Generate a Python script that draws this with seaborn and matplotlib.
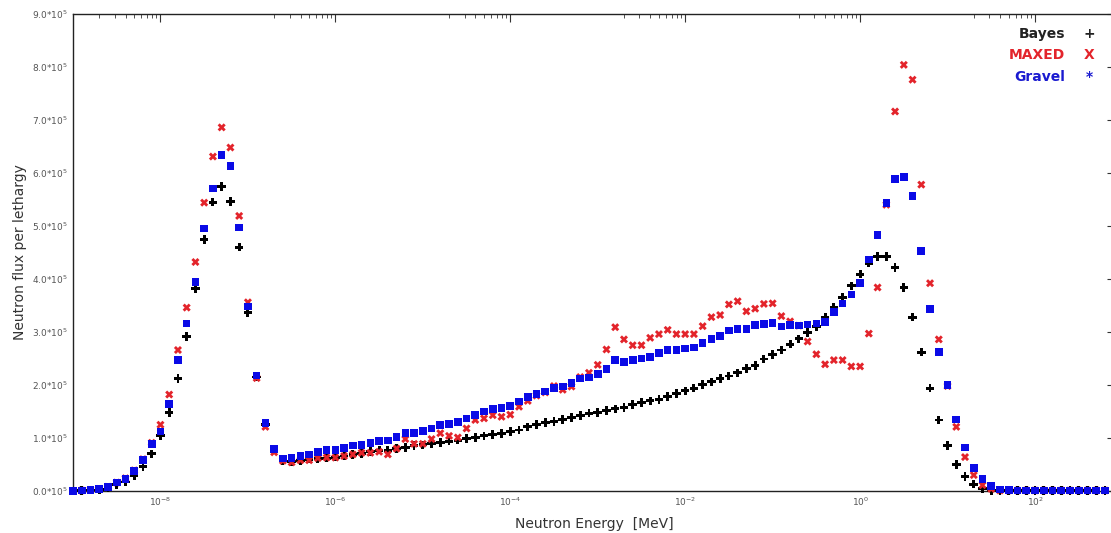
import numpy as np
import pandas as pd
import matplotlib
matplotlib.use("Agg")
import matplotlib.pyplot as plt
import seaborn as sns
from matplotlib.ticker import FixedLocator, FuncFormatter

# energy bins, 10 per decade starting at 1e-9 MeV
energy = np.logspace(-9, 2.8, 119)

# neutron flux per lethargy, in units of 1e5
bayes = [0.0, 0.01, 0.02, 0.03, 0.06, 0.12, 0.17, 0.29, 0.46, 0.70,
         1.04, 1.48, 2.12, 2.91, 3.82, 4.75, 5.45, 5.75, 5.46, 4.60,
         3.37, 2.15, 1.25, 0.78, 0.58, 0.56, 0.58, 0.60, 0.61, 0.62,
         0.64, 0.66, 0.69, 0.71, 0.74, 0.77, 0.77, 0.80, 0.82, 0.86,
         0.87, 0.90, 0.91, 0.94, 0.96, 0.99, 1.01, 1.04, 1.07, 1.09,
         1.12, 1.15, 1.21, 1.25, 1.29, 1.31, 1.35, 1.39, 1.42, 1.47,
         1.48, 1.52, 1.55, 1.58, 1.63, 1.67, 1.70, 1.73, 1.78, 1.84,
         1.89, 1.94, 2.01, 2.06, 2.12, 2.17, 2.23, 2.31, 2.37, 2.49,
         2.58, 2.66, 2.77, 2.87, 2.99, 3.10, 3.28, 3.47, 3.65, 3.87,
         4.09, 4.30, 4.42, 4.42, 4.22, 3.84, 3.28, 2.62, 1.94, 1.34,
         0.86, 0.50, 0.27, 0.13, 0.04, 0.01, 0.01, 0.01, 0.01, 0.01,
         0.01, 0.01, 0.01, 0.01, 0.01, 0.01, 0.01, 0.01, 0.01]

maxed = [0.0, 0.01, 0.02, 0.04, 0.08, 0.16, 0.24, 0.39, 0.60, 0.91,
         1.25, 1.82, 2.66, 3.46, 4.32, 5.44, 6.31, 6.86, 6.48, 5.19,
         3.56, 2.13, 1.21, 0.73, 0.57, 0.54, 0.58, 0.58, 0.62, 0.63,
         0.63, 0.66, 0.69, 0.72, 0.72, 0.74, 0.69, 0.80, 0.98, 0.89,
         0.89, 0.98, 1.09, 1.04, 1.01, 1.18, 1.34, 1.37, 1.43, 1.40,
         1.44, 1.59, 1.70, 1.80, 1.86, 1.98, 1.91, 1.97, 2.15, 2.23,
         2.38, 2.67, 3.09, 2.86, 2.75, 2.75, 2.89, 2.96, 3.04, 2.96,
         2.96, 2.96, 3.11, 3.28, 3.32, 3.52, 3.58, 3.39, 3.44, 3.53,
         3.54, 3.30, 3.20, 3.12, 2.82, 2.58, 2.39, 2.47, 2.47, 2.35,
         2.35, 2.97, 3.84, 5.40, 7.16, 8.04, 7.76, 5.78, 3.92, 2.86,
         1.98, 1.21, 0.64, 0.30, 0.11, 0.04, 0.01, 0.01, 0.01, 0.01,
         0.01, 0.01, 0.01, 0.01, 0.01, 0.01, 0.01, 0.01, 0.01]

gravel = [0.0, 0.01, 0.02, 0.04, 0.08, 0.16, 0.23, 0.38, 0.58, 0.89,
          1.12, 1.64, 2.47, 3.16, 3.94, 4.95, 5.71, 6.34, 6.13, 4.97,
          3.48, 2.18, 1.28, 0.79, 0.61, 0.62, 0.66, 0.69, 0.74, 0.77,
          0.77, 0.81, 0.86, 0.87, 0.90, 0.94, 0.95, 1.02, 1.09, 1.09,
          1.13, 1.18, 1.25, 1.26, 1.30, 1.37, 1.43, 1.50, 1.55, 1.57,
          1.60, 1.69, 1.77, 1.83, 1.88, 1.94, 1.97, 2.04, 2.12, 2.14,
          2.21, 2.30, 2.47, 2.43, 2.47, 2.50, 2.53, 2.60, 2.66, 2.66,
          2.69, 2.71, 2.79, 2.87, 2.92, 3.03, 3.06, 3.06, 3.13, 3.15,
          3.17, 3.10, 3.13, 3.12, 3.14, 3.16, 3.19, 3.38, 3.54, 3.71,
          3.92, 4.37, 4.83, 5.43, 5.89, 5.92, 5.57, 4.53, 3.43, 2.62,
          2.00, 1.35, 0.82, 0.43, 0.23, 0.10, 0.03, 0.02, 0.01, 0.01,
          0.01, 0.01, 0.01, 0.01, 0.01, 0.01, 0.01, 0.01, 0.01]

df = pd.DataFrame({"energy": energy,
                   "Bayes": np.array(bayes) * 1e5,
                   "MAXED": np.array(maxed) * 1e5,
                   "Gravel": np.array(gravel) * 1e5})

sns.set_style("white")
plt.rcParams['font.family'] = ['DejaVu Sans']

fig = plt.figure(figsize=(11.11, 5.33), dpi=100)
ax = fig.add_axes([0.0657, 0.0788, 0.9383, 0.895])

sns.scatterplot(data=df, x="energy", y="Bayes", ax=ax, marker="P", s=38,
                color="black", edgecolor="none", clip_on=False, zorder=3)
sns.scatterplot(data=df, x="energy", y="MAXED", ax=ax, marker="X", s=34,
                color="#e3242b", edgecolor="none", clip_on=False, zorder=4)
sns.scatterplot(data=df, x="energy", y="Gravel", ax=ax, marker="s", s=30,
                color="#0a0ae6", edgecolor="none", clip_on=False, zorder=5)

ax.set_xscale("log")
ax.set_xlim(1e-9, 10 ** 2.92)
ax.set_ylim(0, 9e5)

ax.xaxis.set_major_locator(FixedLocator([1e-8, 1e-6, 1e-4, 1e-2, 1e0, 1e2]))
minors = [k * 10.0 ** d for d in [-9, -7, -5, -3, -1, 1] for k in range(2, 10)]
ax.xaxis.set_minor_locator(FixedLocator(minors))
ax.xaxis.set_major_formatter(FuncFormatter(lambda v, p: r"10$^{%d}$" % round(np.log10(v))))
ax.xaxis.set_minor_formatter(FuncFormatter(lambda v, p: ""))

ax.set_yticks(np.arange(0, 9.5e5, 1e5))
ax.yaxis.set_major_formatter(FuncFormatter(lambda v, p: "%.1f*10$^{5}$" % (v / 1e5)))

ax.tick_params(which="both", direction="in", top=True, right=True,
               labelsize=6.5, labelcolor="#555555", color="#333333")
ax.tick_params(which="major", length=6, width=0.8)
ax.tick_params(which="minor", length=3, width=0.6)

for side in ["left", "top", "bottom", "right"]:
    ax.spines[side].set_color("#222222")
    ax.spines[side].set_linewidth(1.0)

ax.set_xlabel("Neutron Energy  [MeV]", fontsize=10, color="#333333", labelpad=6)
ax.set_ylabel("Neutron flux per lethargy", fontsize=10, color="#333333", labelpad=4)

# legend written as coloured text with the symbol after the name
rows = [("Bayes", "+", "#222222", 0.959),
        ("MAXED", "X", "#e3242b", 0.914),
        ("Gravel", "*", "#1a1ad0", 0.868)]
for name, sym, col, yy in rows:
    ax.text(0.952, yy, name, transform=ax.transAxes, ha="right", va="center",
            fontsize=10, fontweight="bold", color=col)
    ax.text(0.975, yy, sym, transform=ax.transAxes, ha="center", va="center",
            fontsize=10, fontweight="bold", color=col)

fig.savefig("out.png", dpi=100)
